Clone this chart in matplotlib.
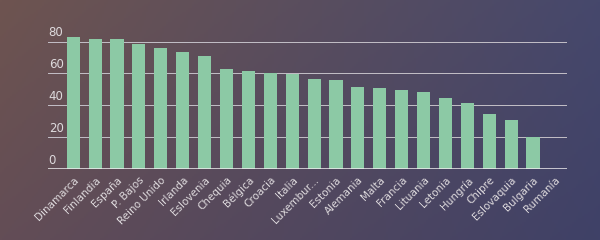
import matplotlib.pyplot as plt
import matplotlib.colors as mcolors
import numpy as np

paises = ["Dinamarca", "Finlandia", "España", "P. Bajos", "Reino Unido", "Irlanda",
          "Eslovenia", "Chequia", "Bélgica", "Croacia", "Italia", "Luxembur...",
          "Estonia", "Alemania", "Malta", "Francia", "Lituania", "Letonia",
          "Hungría", "Chipre", "Eslovaquia", "Bulgaria", "Rumanía"]
valores = [82.6, 81.6, 81.6, 78.6, 75.9, 73.4, 70.7, 62.6, 61.6, 60.3, 59.9, 56.4,
           55.7, 51.8, 50.7, 49.7, 48.6, 44.5, 41.6, 34.7, 30.9, 20.5, 0]
yticks = [0, 20, 40, 60, 80]

BAR = "#8cc9a5"
TXT = "#dedadd"

fig = plt.figure(figsize=(6, 2.4), dpi=100)

# background gradient (corner colours blended)
tl, tr = np.array(mcolors.to_rgb("#6e5450")), np.array(mcolors.to_rgb("#46486c"))
bl, br = np.array(mcolors.to_rgb("#634d56")), np.array(mcolors.to_rgb("#3f4167"))
u = np.linspace(0, 1, 300)[None, :, None]
v = np.linspace(0, 1, 120)[:, None, None]
grad = (1 - v) * ((1 - u) * tl + u * tr) + v * ((1 - u) * bl + u * br)
bg = fig.add_axes([0, 0, 1, 1])
bg.imshow(grad, aspect="auto", extent=[0, 1, 0, 1])
bg.axis("off")

ax = fig.add_axes([0.08, 0.294, 0.865, 0.581])
ax.patch.set_alpha(0)
x = np.arange(len(paises))
ax.bar(x, valores, width=0.6, color=BAR, zorder=3)

ax.set_xlim(-1.15, len(paises) - 0.45)
ax.set_ylim(0, 87.2)
for t in yticks[1:]:
    ax.axhline(t, color="#c4c0c8", linewidth=0.7, zorder=1)
    ax.text(-1.12, t + 1.8, str(t), color=TXT, fontsize=8.5, ha="left", va="bottom")
ax.text(-1.12, 1.8, "0", color=TXT, fontsize=8.5, ha="left", va="bottom")
ax.axhline(0, color="#f0eef0", linewidth=1.8, zorder=4)

for s in ax.spines.values():
    s.set_visible(False)
ax.set_yticks([])
ax.set_xticks(x)
ax.set_xticklabels(paises, rotation=45, ha="right", rotation_mode="anchor",
                   color=TXT, fontsize=7.5)
ax.tick_params(axis="x", length=0, pad=4)

fig.savefig("out.png", dpi=100)
